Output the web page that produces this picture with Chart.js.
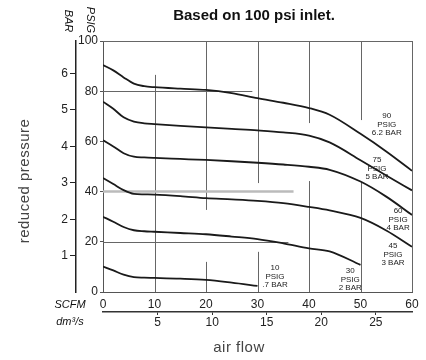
<!DOCTYPE html>
<html lang="en">
<head>
    <meta charset="UTF-8">
    <title>Reduced pressure vs air flow</title>
    <script src="https://cdn.jsdelivr.net/npm/chart.js"></script>
    <style>
        body { margin: 0; background: #fff; }
        #wrap { width: 426px; height: 360px; }
    </style>
</head>
<body>
<div id="wrap"><canvas id="flowChart" width="426" height="360"></canvas></div>
<script>
    // air flow in SCFM where the curves were read
    const scfm = [0, 2, 4, 6, 8, 10, 15, 20, 25, 30, 35, 40, 44, 50, 55, 60];

    // reduced pressure (PSIG) for each regulator setting
    const psig90 = [90.4, 88.3, 85.5, 83.0, 82.0, 81.6, 81.0, 80.5, 79.2, 77.2, 75.4, 73.3, 70.6, 63.0, 56.0, 48.3];
    const psig75 = [75.8, 73.0, 69.6, 67.9, 67.2, 66.9, 66.2, 65.6, 65.0, 64.4, 63.6, 62.3, 59.6, 52.5, 46.4, 40.5];
    const psig60 = [60.5, 58.0, 55.3, 53.9, 53.6, 53.4, 53.0, 52.6, 52.1, 51.5, 50.8, 49.9, 48.7, 44.0, 38.0, 30.7];
    const psig45 = [45.4, 43.0, 40.6, 39.1, 38.9, 38.8, 38.2, 37.4, 36.9, 36.3, 35.4, 33.9, 32.5, 29.5, 24.5, 18.0];
    const psig30 = [30.0, 28.0, 25.9, 24.6, 24.2, 24.0, 23.5, 23.0, 22.1, 21.1, 19.4, 17.4, 16.2, 10.8, null, null];
    const psig10 = [10.1, 8.6, 6.9, 5.9, 5.7, 5.6, 5.3, 4.8, 3.7, 2.4, null, null, null, null, null, null];

    // tick values of the secondary scales
    const dm3sTicks = [5, 10, 15, 20, 25];
    const barTicks = [1, 2, 3, 4, 5, 6];

    const curveNames = [
        ['90', 'PSIG', '6.2 BAR'],
        ['75', 'PSIG', '5 BAR'],
        ['60', 'PSIG', '4 BAR'],
        ['45', 'PSIG', '3 BAR'],
        ['30', 'PSIG', '2 BAR'],
        ['10', 'PSIG', '.7 BAR']
    ];
    // where each curve label sits (SCFM, PSIG of its first line)
    const labelFlow = [55.1, 53.2, 57.3, 56.3, 48.0, 33.4];
    const labelPsig = [70.1, 52.6, 32.3, 18.3, 8.4, 9.6];

    const SCFM_TO_DM3S = 0.4719;
    const PSI_PER_BAR = 14.5038;
    const FONT = "Arial, 'Liberation Sans', sans-serif";

    // partial grid lines as they appear on the sheet: [value, from, to]
    const gridV = [[10, 0, 86.5], [20, 32.7, 100], [20, 0, 12], [30, 43.4, 100], [30, 0, 16],
                   [40, 67.3, 100], [40, 0, 44.2], [50, 68.5, 100], [50, 0, 43.8], [60, 0, 100]];
    const gridH = [[100, 0, 60], [80, 0, 29], [20, 0, 36]];

    const series = [psig90, psig75, psig60, psig45, psig30, psig10];

    // Draws the partial grid segments behind the curves
    const gridPlugin = {
        id: 'gridSegments',
        beforeDatasetsDraw(chart) {
            const ctx = chart.ctx;
            const xs = chart.scales.x, ys = chart.scales.y;
            ctx.save();
            ctx.strokeStyle = '#666';
            ctx.lineWidth = 1;
            gridV.forEach(g => {
                const px = Math.round(xs.getPixelForValue(g[0])) + 0.5;
                ctx.beginPath();
                ctx.moveTo(px, ys.getPixelForValue(g[1]));
                ctx.lineTo(px, ys.getPixelForValue(g[2]));
                ctx.stroke();
            });
            gridH.forEach(g => {
                const py = Math.round(ys.getPixelForValue(g[0])) + 0.5;
                ctx.beginPath();
                ctx.moveTo(xs.getPixelForValue(g[1]), py);
                ctx.lineTo(xs.getPixelForValue(g[2]), py);
                ctx.stroke();
            });
            // the 40 PSIG line is printed lighter and thicker
            ctx.strokeStyle = '#bbb';
            ctx.lineWidth = 2.5;
            const p40 = ys.getPixelForValue(40);
            ctx.beginPath();
            ctx.moveTo(xs.getPixelForValue(0), p40);
            ctx.lineTo(xs.getPixelForValue(37), p40);
            ctx.stroke();
            ctx.restore();
        }
    };

    // Title, axis names and curve labels
    const textPlugin = {
        id: 'texts',
        afterDraw(chart) {
            const ctx = chart.ctx;
            const xs = chart.scales.x, ys = chart.scales.y;
            ctx.save();
            ctx.textAlign = 'center';
            ctx.textBaseline = 'middle';

            ctx.fillStyle = '#111';
            ctx.font = 'bold 15px ' + FONT;
            ctx.fillText('Based on 100 psi inlet.', 254, 16);

            // rotated unit names over the two left axes
            ctx.font = 'italic 11px ' + FONT;
            [['PSIG', 90, 20], ['BAR', 68, 21]].forEach(t => {
                ctx.save();
                ctx.translate(t[1], t[2]);
                ctx.rotate(Math.PI / 2);
                ctx.fillText(t[0], 0, 0);
                ctx.restore();
            });

            ctx.fillText('SCFM', 70, 305);
            ctx.fillText('dm³/s', 70, 322);

            ctx.fillStyle = '#444';
            ctx.font = '15px ' + FONT;
            ctx.letterSpacing = '0.5px';
            ctx.save();
            ctx.translate(25, 181);
            ctx.rotate(-Math.PI / 2);
            ctx.fillText('reduced pressure', 0, 0);
            ctx.restore();
            ctx.fillText('air flow', 239, 348);
            ctx.letterSpacing = '0px';

            ctx.fillStyle = '#222';
            ctx.font = '8px ' + FONT;
            curveNames.forEach((lines, i) => {
                const cx = xs.getPixelForValue(labelFlow[i]);
                const cy = ys.getPixelForValue(labelPsig[i]);
                lines.forEach((s, j) => ctx.fillText(s, cx, cy + j * 8.5));
            });
            ctx.restore();
        }
    };

    const tickFont = { family: FONT, size: 12 };

    new Chart(document.getElementById('flowChart'), {
        type: 'line',
        data: {
            datasets: series.map(vals => ({
                data: scfm.map((x, i) => ({ x: x, y: vals[i] })).filter(p => p.y !== null),
                borderColor: '#1a1a1a',
                borderWidth: 1.8,
                pointRadius: 0,
                fill: false,
                cubicInterpolationMode: 'monotone'
            }))
        },
        options: {
            responsive: false,
            animation: false,
            devicePixelRatio: 1,
            layout: { padding: { left: 56, right: 14, top: 41, bottom: 26 } },
            plugins: { legend: { display: false }, tooltip: { enabled: false } },
            scales: {
                x: {
                    type: 'linear', position: 'bottom', weight: 0,
                    min: 0, max: 60,
                    ticks: { stepSize: 10, font: tickFont, color: '#222', padding: 5, maxRotation: 0 },
                    grid: { display: false, drawTicks: false },
                    border: { display: true, color: '#555', width: 1 },
                    afterFit(s) { s.height = 20; }
                },
                x2: {
                    type: 'linear', position: 'bottom', weight: 1,
                    min: 0, max: 60 * SCFM_TO_DM3S,
                    ticks: { font: tickFont, color: '#222', padding: 0, maxRotation: 0 },
                    afterBuildTicks(s) { s.ticks = dm3sTicks.map(v => ({ value: v })); },
                    grid: { drawOnChartArea: false, tickLength: 3, color: '#333' },
                    border: { color: '#333', width: 1.5 },
                    afterFit(s) { s.height = 22; }
                },
                y: {
                    type: 'linear', position: 'left', weight: 0,
                    min: 0, max: 100,
                    ticks: { stepSize: 20, font: tickFont, color: '#222', padding: 2 },
                    grid: { drawOnChartArea: false, tickLength: 3, color: '#555' },
                    border: { color: '#555', width: 1 },
                    afterFit(s) { s.width = 27; }
                },
                y2: {
                    type: 'linear', position: 'left', weight: 1,
                    min: 0, max: 100 / PSI_PER_BAR,
                    ticks: { font: tickFont, color: '#222', padding: 2 },
                    afterBuildTicks(s) { s.ticks = barTicks.map(v => ({ value: v })); },
                    grid: { drawOnChartArea: false, tickLength: 6, color: '#222' },
                    border: { color: '#222', width: 1.5 },
                    afterFit(s) { s.width = 20; }
                }
            }
        },
        plugins: [gridPlugin, textPlugin]
    });
</script>
</body>
</html>
